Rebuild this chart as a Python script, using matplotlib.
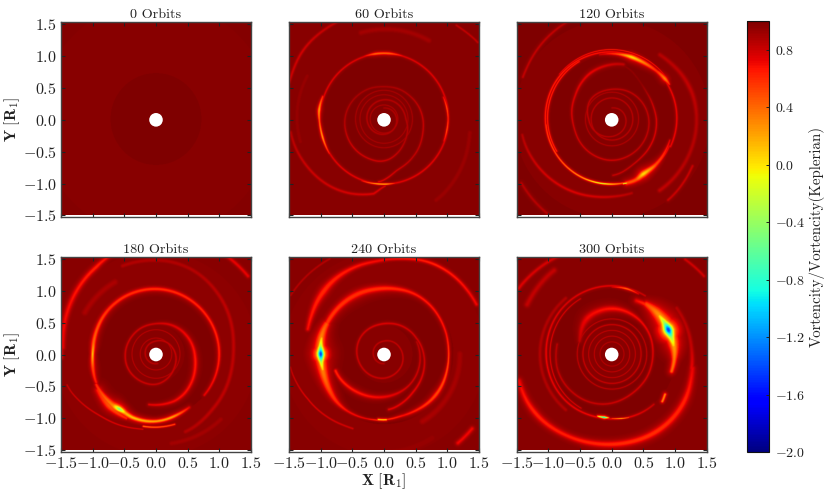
import numpy as np
import matplotlib
matplotlib.use("Agg")
import matplotlib.pyplot as plt
from matplotlib.patches import Circle
from matplotlib.ticker import FixedLocator, FixedFormatter

plt.rcParams["font.family"] = ["cmr10", "DejaVu Serif"]
plt.rcParams["mathtext.fontset"] = "cm"
plt.rcParams["axes.unicode_minus"] = False
plt.rcParams["axes.formatter.use_mathtext"] = True

ORBITS = [0, 60, 120, 180, 240, 300]
TICKS = [-1.5, -1.0, -0.5, 0.0, 0.5, 1.0, 1.5]
CBAR_TICKS = [-2.0, -1.6, -1.2, -0.8, -0.4, 0.0, 0.4, 0.8]

# Background: outer radius of each annulus and its vorticity ratio, read per panel
BG_R = {0: [0.45, 0.72, 1.85, 9], 60: [0.45, 1.02, 1.5, 9], 120: [0.42, 1.0, 1.55, 9],
        180: [0.45, 1.0, 1.6, 9], 240: [0.45, 1.1, 1.6, 9], 300: [0.45, 1.02, 1.3, 9]}
BG_V = {0: [1.0, 0.99, 0.965, 0.985], 60: [0.98, 1.0, 0.965, 0.975], 120: [0.98, 1.0, 0.965, 1.0],
        180: [0.97, 1.0, 0.955, 0.97], 240: [0.97, 1.0, 0.955, 0.97], 300: [0.97, 1.0, 0.965, 0.97]}

# Traced ridges: angle [deg], radius [R1], vorticity ratio, half-thickness [R1]
F60 = [
 ([-20,90,180,270,340],[1.02,1.03,1.01,1.02,1.02],[.74,.74,.74,.72,.74],[.014]*5),
 ([108,98,85,72],[1.03,1.03,1.03,1.03],[.75,.4,.42,.75],[.012,.018,.018,.012]),
 ([-20,-10,0,10,20],[1.01,1.01,1.015,1.01,1.0],[.7,.45,.6,.45,.7],[.012,.012,.012,.012,.012]),
 ([160,172,182,196,212],[1.03,1.04,1.02,1.01,1.02],[.6,.2,.45,.2,.65],[.015,.02,.015,.015,.012]),
 ([250,265,272,280],[1.03,1.02,1.02,1.02],[.7,.1,.1,.7],[.01,.01,.01,.01]),
 ([-95,-76,-52,-20,9,41,90,135,180,225,270,315,360,450,540,630,720,810],
  [1.0,.825,.75,.65,.6,.545,.5,.55,.62,.66,.67,.47,.34,.3,.27,.24,.2,.17],
  [.72,.78,.82,.8,.8,.85,.88,.88,.85,.78,.78,.85,.85,.85,.85,.85,.85,.88],[.012]*18),
 ([0,360],[.45,.45],[.88,.88],[.008,.008]),([0,360],[.38,.38],[.88,.88],[.008,.008]),
 ([0,360],[.22,.22],[.86,.86],[.008,.008]),
 ([159,139,118,100],[1.6,1.68,1.69,1.7],[.8,.78,.82,.9],[.02,.02,.02,.02]),
 ([188,211,236,262,271],[1.5,1.43,1.34,1.18,1.03],[.85,.8,.78,.75,.75],[.02,.02,.02,.018,.012]),
 ([52,39],[1.86,1.91],[.82,.82],[.015,.015]),
 ([105,60],[1.4,1.42],[.9,.9],[.04,.04]),
 ([-9,-57],[1.37,1.52],[.92,.92],[.035,.035]),
 ([151,195],[1.39,1.37],[.93,.93],[.03,.03]),
]
F120 = [
 ([-25,60,140,220,300,335],[1.02,1.04,1.07,1.04,1.02,1.0],[.7,.7,.62,.62,.6,.7],[.014]*6),
 ([140,100,60,40],[1.09,1.09,1.08,1.08],[.7,.62,.62,.7],[.008]*4),
 ([120,210],[1.04,1.01],[.62,.6],[.012,.012]),
 ([101,85,72,61,47,37,31],[1.03,1.02,1.02,1.01,1.03,1.05,1.06],[.8,.5,.0,.3,.6,.3,.6],
  [.015,.02,.03,.03,.025,.03,.015]),
 ([185,215,245,262,270,285,297],[1.05,1.04,1.03,1.02,1.02,1.02,1.01],[.55,.45,.2,-.3,.1,.6,.6],
  [.012,.012,.012,.01,.012,.012,.02]),
 ([280,283],[1.03,1.03],[-.3,-.3],[.008,.008]),
 ([283,292,300,315,340],[1.03,1.03,.985,1.0,.97],[.45,.45,.0,.5,.72],[.03,.035,.04,.03,.012]),
 ([-89,-64,-36,0,22,50,78],[.9,.77,.74,.7,.675,.7,.88],[.8,.8,.75,.75,.8,.95,.95],[.012]*7),
 ([78,115,148,191,230,270,316,354,395,450,499,540,630,720,810],
  [.88,.8,.685,.61,.63,.65,.62,.59,.535,.46,.46,.37,.27,.22,.17],
  [.82,.72,.75,.78,.78,.78,.82,.82,.82,.82,.82,.82,.84,.84,.86],
  [.022,.022,.016,.012,.012,.012,.012,.012,.012,.012,.012,.012,.01,.01,.01]),
 ([0,360],[.42,.42],[.86,.86],[.008,.008]),([0,360],[.33,.33],[.84,.84],[.01,.01]),
 ([155,125,100],[1.55,1.65,1.72],[.82,.82,.9],[.018]*3),
 ([190,215,240,265,285],[1.45,1.38,1.3,1.22,1.2],[.85,.78,.75,.78,.85],[.02,.02,.02,.02,.02]),
 ([-30,-55],[1.47,1.55],[.8,.8],[.018,.018]),
 ([53,23,2,-29,-56],[1.25,1.33,1.34,1.34,1.35],[.85,.82,.85,.85,.82],[.03,.035,.03,.03,.03]),
 ([215,235],[1.75,1.8],[.85,.85],[.02,.02]),
]
F180 = [
 ([-40,0,45,90,135,170,180,192,205],[1.0,1.0,1.0,1.02,1.03,1.0,1.0,1.02,1.05],
  [.72,.62,.62,.58,.58,.4,.1,.5,.65],[.018,.022,.025,.028,.03,.03,.02,.03,.025]),
 ([207,230,236,242,250,270,285,302],[1.06,1.06,1.03,1.04,1.07,1.06,1.02,.98],
  [.6,.3,-.55,.15,.1,.2,.2,.72],[.025,.05,.035,.035,.028,.022,.022,.022]),
 ([212,228,245],[1.07,1.1,1.11],[.6,.45,.6],[.05,.055,.025]),
 ([260,285],[1.15,1.14],[.35,.5],[.012,.012]),
 ([262,298,349,393,450,507,566,630,683,740,810,900,1000],
  [.8,.79,.63,.56,.47,.47,.5,.48,.36,.28,.2,.17,.15],
  [.72,.68,.65,.7,.78,.78,.78,.8,.8,.8,.82,.82,.84],
  [.016,.026,.03,.025,.015,.014,.014,.014,.014,.012,.012,.012,.012]),
 ([0,360],[.38,.38],[.84,.84],[.008,.008]),([0,360],[.25,.25],[.84,.84],[.008,.008]),
 ([176,150,125,112],[1.47,1.57,1.66,1.72],[.72,.68,.62,.72],[.035,.04,.035,.025]),
 ([111,71,33,0,-44,-69],[1.48,1.46,1.32,1.21,1.24,1.31],[.86,.86,.83,.83,.83,.86],[.03]*6),
 ([55,40],[1.9,1.9],[.72,.72],[.025,.025]),
 ([199,227,260],[1.5,1.31,1.19],[.8,.75,.75],[.012,.012,.01]),
 ([170,182],[1.5,1.5],[.72,.72],[.03,.03]),
 ([120,150],[1.3,1.3],[.88,.88],[.05,.05]),
 ([-80,-45],[1.42,1.45],[.9,.9],[.04,.04]),
]
F240 = [
 ([153,166,180,199,218,237,255,270],[1.02,1.04,1.0,.99,1.05,1.08,1.04,1.04],
  [.45,.3,.25,.35,.55,.68,.7,.45],[.045,.06,.08,.06,.045,.02,.012,.01]),
 ([166,173,180,187,194],[1.02,1.01,1.0,1.0,1.0],[.1,-.3,-1.55,-.3,.1],[.03,.04,.05,.04,.03]),
 ([265,272],[1.03,1.03],[.05,.05],[.012,.012]),
 ([153,115,90,58,17,-6,-38,-72,-88],[1.02,1.03,1.02,1.07,1.03,1.02,1.05,1.0,1.03],
  [.55,.58,.58,.65,.66,.5,.5,.68,.55],[.04,.05,.04,.025,.018,.014,.03,.02,.012]),
 ([-85,-52,-10,26,90,146,204,270,329,380,450,540,630],
  [.88,.75,.65,.57,.47,.455,.41,.38,.33,.27,.2,.17,.15],
  [.72,.72,.78,.78,.75,.78,.8,.8,.8,.82,.82,.84,.84],
  [.016,.016,.014,.014,.016,.014,.014,.014,.012,.012,.012,.012,.012]),
 ([199,234,270,310,348,380],[.82,.73,.67,.63,.58,.55],[.62,.65,.7,.78,.8,.84],
  [.025,.03,.025,.014,.014,.014]),
 ([162,134,110,88,60,28],[1.25,1.38,1.44,1.46,1.64,1.66],[.68,.6,.66,.7,.62,.7],
  [.03,.055,.035,.025,.025,.025]),
 ([188,210,247],[1.5,1.4,1.26],[.82,.75,.78],[.012,.012,.015]),
 ([-50,-40],[1.82,1.82],[.7,.7],[.03,.03]),
 ([148,120],[1.74,1.72],[.85,.85],[.015,.015]),
 ([0,-60],[1.2,1.22],[.9,.88],[.05,.05]),
 ([-90,-60],[1.55,1.52],[.93,.93],[.06,.06]),
]
F300 = [
 ([55,43,30,10,-5,-16],[.95,.96,.97,.99,.99,.98],[.5,.3,.15,.2,.35,.4],
  [.045,.07,.09,.07,.035,.028]),
 ([38,30,23,16,8],[.96,.965,.97,.975,.985],[.05,-.4,-1.55,-.4,.05],[.04,.055,.065,.055,.04]),
 ([-37,-43],[1.05,1.09],[.3,.3],[.018,.018]),
 ([60,90,135,180,225,262,290,310],[1.05,1.07,1.07,1.04,1.04,1.01,1.03,1.03],
  [.8,.72,.75,.7,.72,.68,.72,.8],[.014]*8),
 ([120,180,240],[1.0,.98,.98],[.76,.72,.75],[.008,.008,.008]),
 ([90,77,66],[1.05,1.05,1.03],[.75,.35,.75],[.01,.014,.012]),
 ([65,52],[.92,.95],[.7,.55],[.035,.035]),
 ([257,263,267],[1.0,1.0,1.0],[.15,-1.2,.3],[.012,.012,.01]),
 ([270,278,285],[1.01,1.02,1.03],[.5,.1,.5],[.008,.008,.008]),
 ([-10,-33,-60,-90,-119,-144,-164],[1.28,1.37,1.41,1.405,1.46,1.54,1.53],
  [.72,.62,.58,.6,.64,.62,.7],[.04,.05,.05,.045,.04,.045,.04]),
 ([35,5,-10],[1.25,1.26,1.28],[.85,.82,.72],[.03,.03,.03]),
 ([158,125,88,43,-6,-60,-111,-159,-190],[.54,.695,.715,.68,.64,.68,.83,.9,.88],
  [.82,.7,.66,.7,.76,.78,.8,.82,.84],[.025,.05,.04,.018,.014,.014,.014,.014,.014]),
 ([0,360],[.55,.55],[.82,.82],[.008,.008]),([0,360],[.46,.46],[.8,.8],[.01,.01]),
 ([0,360],[.37,.37],[.82,.82],[.008,.008]),([0,360],[.28,.28],[.82,.82],[.008,.008]),
 ([0,360],[.19,.19],[.84,.84],[.008,.008]),
 ([145,118],[1.8,1.75],[.75,.78],[.025,.025]),
 ([150,125],[1.55,1.6],[.82,.82],[.04,.04]),
 ([130,230],[1.14,1.14],[.86,.86],[.025,.025]),
 ([52,40],[1.88,1.9],[.78,.78],[.02,.02]),
]
FEATURES = {0: [], 60: F60, 120: F120, 180: F180, 240: F240, 300: F300}

N = 400
axis = np.linspace(-1.5, 1.5, N)
X, Y = np.meshgrid(axis, axis)
RAD = np.hypot(X, Y)


def paint(orbit):
    field = np.array(BG_V[orbit])[np.searchsorted(BG_R[orbit], RAD)]
    for th, r, v, w in FEATURES[orbit]:
        th = np.array(th, float)
        steps = max(len(th) * 4, int(abs(th[-1] - th[0]) / 2))
        pos = np.linspace(0, len(th) - 1, steps)
        idx = np.arange(len(th))
        t_d = np.interp(pos, idx, th)
        r_d = np.interp(pos, idx, r)
        v_d = np.interp(pos, idx, v)
        w_d = np.interp(pos, idx, w)
        # round the corners of the traced radius so the ridge stays a curve
        win = min(15, max(1, steps // 4)) | 1
        pad = np.pad(r_d, win // 2, mode="edge")
        r_d = np.convolve(pad, np.ones(win) / win, mode="valid")
        px = r_d * np.cos(np.radians(t_d))
        py = r_d * np.sin(np.radians(t_d))
        for i in range(len(px) - 1):
            reach = 7 * max(w_d[i], w_d[i + 1])
            x0, x1 = sorted((px[i], px[i + 1]))
            y0, y1 = sorted((py[i], py[i + 1]))
            a = np.searchsorted(axis, x0 - reach)
            b = np.searchsorted(axis, x1 + reach)
            c = np.searchsorted(axis, y0 - reach)
            d = np.searchsorted(axis, y1 + reach)
            if a >= b or c >= d:
                continue
            gx, gy = X[c:d, a:b], Y[c:d, a:b]
            sx, sy = px[i + 1] - px[i], py[i + 1] - py[i]
            t = np.clip(((gx - px[i]) * sx + (gy - py[i]) * sy) / max(sx * sx + sy * sy, 1e-12), 0, 1)
            dist = np.hypot(gx - px[i] - t * sx, gy - py[i] - t * sy)
            vv = v_d[i] + t * (v_d[i + 1] - v_d[i])
            ww = w_d[i] + t * (w_d[i + 1] - w_d[i])
            glow = 0.72 * np.exp(-(dist / ww) ** 2) + 0.28 * np.exp(-(dist / (2.8 * ww)) ** 2)
            val = 1 + (vv - 1) * glow
            field[c:d, a:b] = np.minimum(field[c:d, a:b], val)
    return field


fig = plt.figure(figsize=(8.3, 4.95), dpi=100)
W, H = 830.0, 495.0
LEFTS = [61, 289, 516.7]
TOPS = [21.7, 256.7]
SIZE_W, SIZE_H = 190, 195.3
SPINE = "#444444"
TXT = "#222222"

im = None
for k, orbit in enumerate(ORBITS):
    row, col = divmod(k, 3)
    ax = fig.add_axes([LEFTS[col] / W, 1 - (TOPS[row] + SIZE_H) / H, SIZE_W / W, SIZE_H / H])
    im = ax.imshow(paint(orbit), origin="lower", extent=[-1.5, 1.5, -1.5, 1.5], cmap="jet",
                   vmin=-2, vmax=1, interpolation="antialiased", aspect="auto")
    ax.add_patch(Circle((0, 0), 0.107, fc="white", ec="none", zorder=3))
    ax.set_xlim(-1.5, 1.5)
    if row == 0:
        ax.set_ylim(-1.525, 1.54)
    else:
        ax.set_ylim(-1.53, 1.535)
    ax.set_xticks(TICKS)
    ax.set_yticks(TICKS)
    ax.tick_params(direction="in", top=True, right=True, length=3, width=0.8, color="#222222",
                   labelsize=11.5, labelcolor=TXT, pad=3,
                   labelleft=col == 0, labelbottom=row == 1)
    if col == 0:
        ax.set_yticklabels([f"${t:.1f}$" for t in TICKS])
        ax.set_ylabel(r"$\mathbf{Y\ [R_1]}$", fontsize=11.5, color=TXT, labelpad=0.5)
    if row == 1:
        ax.set_xticklabels([f"${t:.1f}$" for t in TICKS])
    if row == 1 and col == 1:
        ax.set_xlabel(r"$\mathbf{X\ [R_1]}$", fontsize=11.5, color=TXT, labelpad=0)
    ax.set_title(f"{orbit} Orbits", fontsize=10.2, color=TXT, pad=3)
    for s in ax.spines.values():
        s.set_color(SPINE)
        s.set_linewidth(1.0)

cax = fig.add_axes([746.7 / W, 1 - 452.3 / H, 22.3 / W, 431.3 / H])
cb = fig.colorbar(im, cax=cax)
cb.ax.yaxis.set_major_locator(FixedLocator(CBAR_TICKS))
cb.ax.yaxis.set_major_formatter(FixedFormatter([f"${t:.1f}$" for t in CBAR_TICKS]))
cb.ax.tick_params(direction="in", length=2, width=0.7, labelsize=10, labelcolor=TXT, pad=4, color="#222222")
cb.outline.set_edgecolor("#111111")
cb.outline.set_linewidth(0.8)
cb.set_label("Vortencity/Vortencity(Keplerian)", fontsize=10.8, color=TXT, labelpad=3)

fig.savefig("out.png", dpi=100)
